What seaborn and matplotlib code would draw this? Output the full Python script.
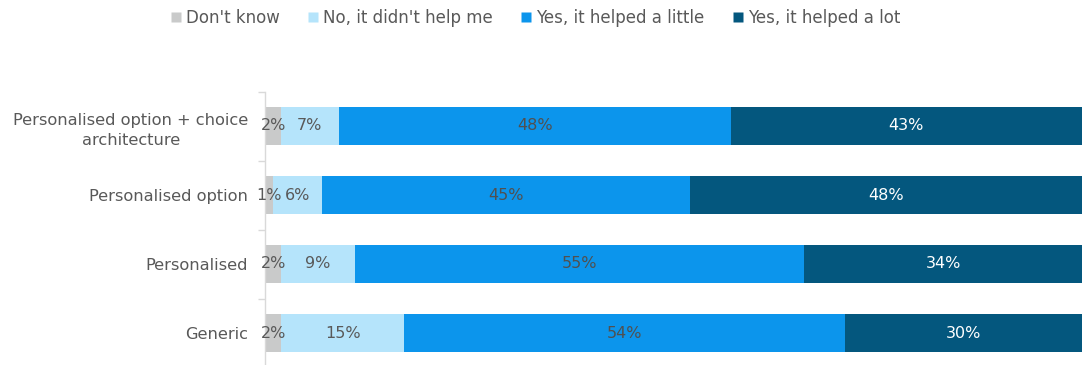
import numpy as np
import pandas as pd
import matplotlib
matplotlib.use("Agg")
import matplotlib.pyplot as plt
from matplotlib.lines import Line2D
import seaborn as sns

categories = ["Personalised option + choice\narchitecture", "Personalised option", "Personalised", "Generic"]
series_names = ["Don't know", "No, it didn't help me", "Yes, it helped a little", "Yes, it helped a lot"]
dont_know = [2, 1, 2, 2]
no_help = [7, 6, 9, 15]
helped_little = [48, 45, 55, 54]
helped_lot = [43, 48, 34, 30]
colors = ["#C9CACA", "#B5E4FB", "#0C95EC", "#04577E"]
text_colors = ["#595959", "#595959", "#505050", "#FFFFFF"]

sns.set_theme(style="white")
plt.rcParams["font.family"] = ["DejaVu Sans"]

fig = plt.figure(figsize=(10.82, 3.65), dpi=100)
ax = fig.add_axes([265 / 1082, -2.5 / 365, 1 - 265 / 1082, (367.5 - 91.5) / 365])

series = [dont_know, no_help, helped_little, helped_lot]
df = pd.DataFrame({name: vals for name, vals in zip(series_names, series)})
df["cat"] = categories
cum = df[series_names].cumsum(axis=1)

for i in reversed(range(4)):
    sns.barplot(x=cum[series_names[i]], y=df["cat"], orient="h", color=colors[i],
                width=0.565, ax=ax, saturation=1, edgecolor="none", linewidth=0)

for r in range(len(categories)):
    left = 0
    for i in range(4):
        v = series[i][r]
        right = min(left + v, 100)
        cx = (left + right) / 2
        ax.text(cx, r, f"{v}%", ha="center", va="center", color=text_colors[i],
                fontsize=11.5)
        left += v

ax.set_xlim(0, 100)
ax.set_ylim(3.5, -0.5)
ax.set_xlabel("")
ax.set_ylabel("")
ax.set_xticks([])
ax.set_yticks(np.arange(len(categories)))
ax.set_yticklabels(categories, fontsize=11.7, color="#595959", ha="right",
                   multialignment="center", linespacing=1.45)
ax.tick_params(axis="y", which="major", length=0, pad=12)
ax.set_yticks(np.arange(-0.5, len(categories), 1), minor=True)
ax.tick_params(axis="y", which="minor", length=5, color="#D9D9D9", width=1, left=True)
for s in ["top", "right", "bottom"]:
    ax.spines[s].set_visible(False)
ax.spines["left"].set_color("#D9D9D9")
ax.spines["left"].set_linewidth(1)

handles = [Line2D([0], [0], marker="s", linestyle="none", markersize=7,
                  markerfacecolor=c, markeredgecolor="none") for c in colors]
fig.legend(handles, series_names, loc="center", bbox_to_anchor=(0.494, 0.95), ncol=4,
           frameon=False, fontsize=12, handlelength=0.8, handletextpad=0.2,
           columnspacing=1.6, labelcolor="#595959")

fig.savefig("out.png", dpi=100)
